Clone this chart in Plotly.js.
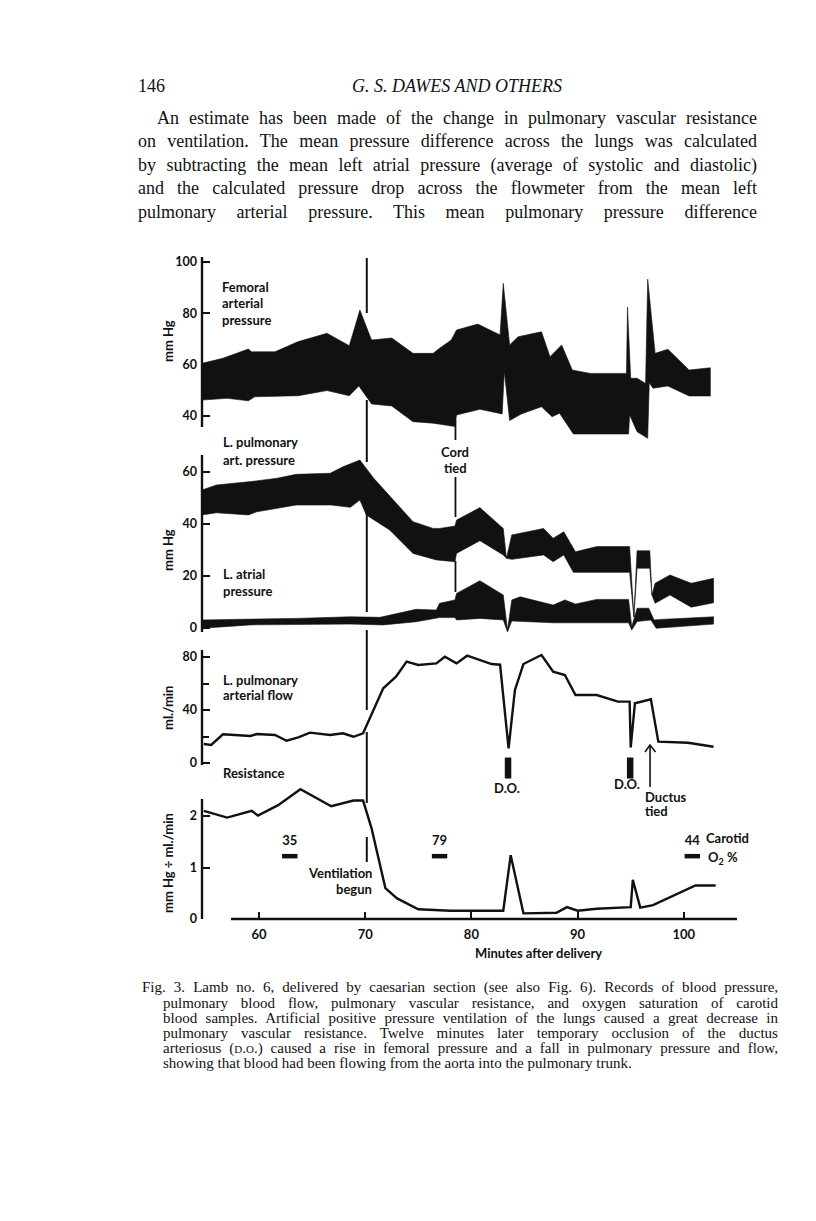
<!DOCTYPE html>
<html><head><meta charset="utf-8">
<script src="https://cdn.plot.ly/plotly-3.0.1.min.js"></script>
<style>
body{margin:0;background:#fff;}
#page{position:relative;width:816px;height:1221px;overflow:hidden;background:#fff;}
#chart{position:absolute;left:0;top:0;width:816px;height:1221px;}
.t{position:absolute;font-family:"Liberation Serif","Times New Roman",serif;color:#111;white-space:nowrap;}
.p{font-size:18px;line-height:18px;}
.c{font-size:15px;line-height:15px;}
.sc{font-variant:small-caps;}
</style></head><body><div id="page"><div id="chart"></div>
<div class="t p" style="left:138px;top:77px;">146</div>
<div class="t p j" data-w="210" style="left:352px;top:77px;font-style:italic;">G. S. DAWES AND OTHERS</div>
<div class="t p j" data-w="600" style="left:157px;top:109px;">An estimate has been made of the change in pulmonary vascular resistance</div>
<div class="t p j" data-w="619" style="left:138px;top:132px;">on ventilation. The mean pressure difference across the lungs was calculated</div>
<div class="t p j" data-w="619" style="left:138px;top:156px;">by subtracting the mean left atrial pressure (average of systolic and diastolic)</div>
<div class="t p j" data-w="619" style="left:138px;top:179px;">and the calculated pressure drop across the flowmeter from the mean left</div>
<div class="t p j" data-w="619" style="left:138px;top:203px;">pulmonary arterial pressure. This mean pulmonary pressure difference</div>
<div class="t c j" data-w="636" style="left:142px;top:980px;">Fig. 3. Lamb no. 6, delivered by caesarian section (see also Fig. 6). Records of blood pressure,</div>
<div class="t c j" data-w="615" style="left:163px;top:996px;">pulmonary blood flow, pulmonary vascular resistance, and oxygen saturation of carotid</div>
<div class="t c j" data-w="615" style="left:163px;top:1011px;">blood samples. Artificial positive pressure ventilation of the lungs caused a great decrease in</div>
<div class="t c j" data-w="615" style="left:163px;top:1026px;">pulmonary vascular resistance. Twelve minutes later temporary occlusion of the ductus</div>
<div class="t c j" data-w="615" style="left:163px;top:1041px;">arteriosus (<span class="sc">d.o.</span>) caused a rise in femoral pressure and a fall in pulmonary pressure and flow,</div>
<div class="t c" style="left:163px;top:1056px;">showing that blood had been flowing from the aorta into the pulmonary trunk.</div>
</div>
<script>
// ---------------- data (minutes after delivery, values) ----------------
const femTopT = [54.63,56.6,59.0,59.3,61.5,63.7,66.4,68.5,69.5,70.6,72.5,74.5,76.4,77.0,78.1,78.6,80.6,82.7,83.0,83.6,84.4,86.6,87.4,88.5,89.5,91.2,94.6,94.7,95.0,95.6,96.4,96.6,97.3,98.5,100.5,102.5];
const femTopV = [60.5,62.5,66.1,65.0,65.0,69.0,72.2,67.4,81.3,69.6,70.4,64.4,64.4,66.4,69.6,73.5,75.8,71.6,91.7,67.7,70.9,72.8,63.1,67.7,57.9,56.6,56.6,82.4,54.7,54.7,52.7,93.3,64.4,66.0,57.9,58.8];
const femBotT = [54.63,57.0,59.0,59.6,63.7,66.4,68.5,69.4,70.6,72.5,74.5,76.4,78.45,78.6,80.8,82.9,83.1,83.6,84.7,86.6,87.6,88.3,89.6,94.8,94.9,95.6,96.6,96.75,97.1,98.5,100.5,102.5];
const femBotV = [46.2,46.9,45.9,47.5,47.9,49.9,47.9,51.7,44.7,43.9,37.8,37.2,35.9,40.4,42.6,40.8,57.3,38.2,40.8,43.6,39.7,41.1,33.0,33.0,40.4,33.9,31.3,53.0,50.8,51.7,47.8,47.8];

const pulTopT = [54.63,56.0,59.2,61.7,63.5,66.7,67.9,69.5,70.8,74.5,76.4,77.0,78.45,78.6,80.8,83.0,83.3,83.8,86.8,87.7,88.7,89.8,91.8,94.9,95.3,95.6,96.8,97.0,97.3,98.7,100.7,102.8];
const pulTopV = [53.1,55.0,56.3,57.6,59.1,59.5,62.0,64.6,57.6,40.9,38.3,38.3,39.2,41.5,46.3,38.3,26.8,35.8,38.3,34.5,37.0,29.3,31.3,31.3,4.3,29.7,29.7,12.7,17.2,20.4,17.2,19.1];
const pulBotT = [54.63,56.0,59.0,59.8,63.5,66.8,68.6,69.5,70.1,72.3,74.5,76.7,78.45,78.6,80.8,83.0,83.3,83.8,86.8,87.7,88.7,89.6,94.9,95.3,95.6,96.8,97.0,97.3,98.7,100.7,102.8];
const pulBotV = [43.5,44.3,43.5,44.7,47.3,47.3,46.4,49.2,43.5,37.7,28.7,26.2,25.5,28.7,33.6,28.1,26.8,26.4,28.1,25.5,28.1,21.4,21.4,4.3,23.0,23.0,12.7,9.5,12.7,8.0,9.7];

const atrTopT = [54.63,59.2,63.5,68.6,71.4,74.8,76.7,77.0,78.45,78.6,80.8,83.0,83.4,83.8,84.6,87.7,88.8,89.8,91.8,94.8,95.1,95.6,96.7,97.2,97.8,102.8];
const atrTopV = [3.1,3.3,3.7,4.3,4.1,7.2,6.9,9.5,10.8,13.3,18.2,12.7,-0.8,10.8,12.0,8.8,10.8,9.2,11.0,11.0,0.5,7.6,7.6,3.1,3.3,4.3];
const atrBotT = [54.63,59.2,68.6,71.7,74.8,77.0,78.45,78.6,80.8,83.0,83.4,83.8,87.7,94.8,95.1,95.6,96.9,97.4,102.8];
const atrBotV = [-0.1,1.2,1.5,1.2,2.4,4.0,4.0,3.1,3.7,3.1,-1.5,2.7,2.0,2.0,-0.8,2.5,3.1,-0.1,1.5];

const flowT = [54.8,55.5,56.6,59.2,59.8,61.5,62.6,63.7,64.8,66.7,67.9,68.9,69.8,71.7,72.9,73.9,75.0,76.7,77.5,78.6,79.6,81.9,82.7,83.5,84.1,84.9,86.6,87.7,88.8,89.8,91.8,93.8,94.9,95.0,95.4,96.9,97.6,100.4,102.8];
const flowV = [14.3,13.6,21.7,20.4,21.9,21.1,16.8,19.4,22.9,21.1,22.4,19.8,22.4,56.4,65.1,76.5,74.0,75.2,80.2,75.2,81.0,74.7,74.2,11.1,55.1,74.7,81.5,68.9,66.4,51.3,51.3,46.3,46.3,11.8,45.1,48.1,16.1,15.3,12.3];

const resT = [54.8,57.0,59.3,59.9,61.8,63.9,66.8,68.9,69.8,70.6,71.9,73.0,75.0,78.0,83.0,83.7,84.9,88.0,89.0,90.0,91.8,95.0,95.2,95.9,97.1,101.1,103.0];
const resV = [2.10,1.97,2.10,2.01,2.21,2.52,2.19,2.30,2.30,1.76,0.60,0.40,0.19,0.16,0.16,1.24,0.11,0.12,0.23,0.16,0.20,0.23,0.76,0.22,0.27,0.65,0.65];

const o2Time = [62.9, 77.0, 100.8];
const o2Pct = [35, 79, 44];
const doTime = [83.45, 94.95];
const ventTime = 70.15, cordTime = 78.5, ductusTime = 96.82;
const xTickVals = [60, 70, 80, 90, 100];
const femTicks = [40, 60, 80, 100];
const pulTicks = [0, 20, 40, 60];
const flowTicks = [0, 40, 80];
const resTicks = [0, 1, 2];

// ---------------- justify page text lines ----------------
function fitLines() {
  document.querySelectorAll('.j').forEach(el => {
    const target = parseFloat(el.dataset.w);
    el.style.wordSpacing = '0px';
    const nat = el.getBoundingClientRect().width;
    const n = (el.textContent.match(/ /g) || []).length;
    if (n > 0) el.style.wordSpacing = ((target - nat) / n).toFixed(2) + 'px';
  });
}
fitLines();
if (document.fonts && document.fonts.ready) document.fonts.ready.then(fitLines);

// ---------------- geometry ----------------
const L = 202, R = 737, T = 250, B = 919;
const PW = R - L, PH = B - T;
const minAt = p => 60 + (p - 259) / 10.62;
const xp = p => (p - L) / PW;
const yp = p => (B - p) / PH;
function panel(vA, pA, vB, pB, ptop, pbot) {
  const k = (pB - pA) / (vB - vA);
  const val = p => vA + (p - pA) / k;
  return {range: [val(pbot), val(ptop)], domain: [(B - pbot) / PH, (B - ptop) / PH]};
}
const fem = panel(100, 262, 40, 416, 250, 446);
const pul = panel(60, 472, 0, 628, 447, 640);
const flo = panel(80, 657, 0, 763, 642, 770);
const res = panel(2, 816, 0, 919, 780, 919);

const INK = '#111';
const FONT = 'Lato, "Open Sans", sans-serif';
const labFont = {family: FONT, size: 13, color: INK, weight: 'bold'};

function band(tT, tV, bT, bV, ax) {
  return {x: tT.concat(bT.slice().reverse()), y: tV.concat(bV.slice().reverse()),
    mode: 'lines', fill: 'toself', fillcolor: INK, line: {color: INK, width: 0.6},
    yaxis: ax, hoverinfo: 'skip', showlegend: false};
}
const traces = [
  band(femTopT, femTopV, femBotT, femBotV, 'y'),
  band(pulTopT, pulTopV, pulBotT, pulBotV, 'y2'),
  band(atrTopT, atrTopV, atrBotT, atrBotV, 'y2'),
  {x: flowT, y: flowV, mode: 'lines', line: {color: INK, width: 2.4}, yaxis: 'y3', showlegend: false},
  {x: resT, y: resV, mode: 'lines', line: {color: INK, width: 2.4}, yaxis: 'y4', showlegend: false},
  {x: o2Time, y: o2Time.map(() => 1.22), mode: 'markers+text', text: o2Pct.map(String), textposition: 'top center',
   textfont: {family: FONT, size: 13, color: INK, weight: 'bold'}, cliponaxis: false,
   marker: {symbol: 'line-ew', size: 11, line: {width: 4.5, color: INK}}, yaxis: 'y4', showlegend: false},
  {x: doTime, y: doTime.map(() => -3.8), mode: 'markers', cliponaxis: false,
   marker: {symbol: 'line-ns', size: 15, line: {width: 6.5, color: INK}}, yaxis: 'y3', showlegend: false}
];

const shapes = [];
function seg(x0, y0, x1, y1, w, xref) {
  shapes.push({type: 'line', xref: xref || 'paper', yref: 'paper', x0, y0, x1, y1, line: {color: INK, width: w || 2.2}});
}
// y axis lines
[[257, 427], [455, 632], [650, 765], [799, 919]].forEach(s => seg(0, yp(s[0]), 0, yp(s[1]), 2.4));
// x axis line
seg(xp(231), yp(919), xp(737), yp(919), 2.4);
// ventilation begun line
[[258, 313], [400, 462], [512, 612], [630, 710], [732, 803], [837, 862]].forEach(s => seg(ventTime, yp(s[0]), ventTime, yp(s[1]), 2, 'x'));
// cord tied line
[[420, 440], [477, 517], [561, 592]].forEach(s => seg(cordTime, yp(s[0]), cordTime, yp(s[1]), 1.8, 'x'));
// ductus tied arrow
seg(ductusTime, yp(787), ductusTime, yp(746), 1.6, 'x');
shapes.push({type: 'path', xref: 'paper', yref: 'paper',
  path: `M ${xp(645)},${yp(752)} L ${xp(650)},${yp(745)} L ${xp(655.5)},${yp(752)}`,
  line: {color: INK, width: 1.6}});

const annotations = [];
function ann(text, x, y, xa, extra) {
  annotations.push(Object.assign({xref: 'paper', yref: 'paper', x: xp(x), y: yp(y), text,
    showarrow: false, xanchor: xa || 'left', yanchor: 'middle', font: labFont}, extra || {}));
}
ann('Femoral', 220, 287); ann('arterial', 220, 303); ann('pressure', 220, 320);
ann('L. pulmonary', 221, 442); ann('art. pressure', 221, 460);
ann('L. atrial', 221, 574); ann('pressure', 221, 591);
ann('Cord', 455, 452, 'center'); ann('tied', 455, 468, 'center');
ann('L. pulmonary', 221, 680); ann('arterial flow', 221, 695);
ann('Resistance', 221, 773);
ann('D.O.', 507, 788, 'center'); ann('D.O.', 627, 784, 'center');
ann('Ductus', 643, 797); ann('tied', 643, 811);
ann('Ventilation', 374, 873, 'right'); ann('begun', 374, 889, 'right');
ann('Carotid', 704, 838); ann('O<sub>2</sub> %', 706, 858);
ann('Minutes after delivery', 538, 953, 'center');
ann('mm Hg', 168, 341, 'center', {textangle: -90});
ann('mm Hg', 168, 550, 'center', {textangle: -90});
ann('ml./min', 168, 708, 'center', {textangle: -90});
ann('mm Hg ÷ ml./min', 168, 863, 'center', {textangle: -90});

function yax(p, vals, minorStep) {
  const a = {domain: p.domain, range: p.range, anchor: 'x', showgrid: false, zeroline: false, showline: false,
    ticks: 'inside', ticklen: 8, tickwidth: 2, tickcolor: INK, tickmode: 'array', tickvals: vals,
    ticktext: vals.map(String), tickfont: {family: FONT, size: 12.5, color: INK, weight: 'bold'},
    ticklabelstandoff: 4, fixedrange: true};
  if (minorStep) a.minor = {dtick: minorStep, ticks: 'inside', ticklen: 7, tickwidth: 2, tickcolor: INK, showgrid: false};
  return a;
}
const layout = {
  width: 816, height: 1221, margin: {l: L, r: 816 - R, t: T, b: 1221 - B, pad: 0},
  paper_bgcolor: 'rgba(0,0,0,0)', plot_bgcolor: 'rgba(0,0,0,0)', showlegend: false,
  xaxis: {range: [minAt(L), minAt(R)], anchor: 'y4', showgrid: false, zeroline: false, showline: false,
    ticks: 'inside', ticklen: 7, tickwidth: 2, tickcolor: INK, tickmode: 'array', tickvals: xTickVals,
    tickfont: {family: FONT, size: 13, color: INK, weight: 'bold'}, ticklabelstandoff: 6, fixedrange: true},
  yaxis: yax(fem, femTicks),
  yaxis2: yax(pul, pulTicks),
  yaxis3: yax(flo, flowTicks, 20),
  yaxis4: yax(res, resTicks),
  shapes, annotations
};
Plotly.newPlot('chart', traces, layout, {staticPlot: true, displayModeBar: false});
</script></body></html>
